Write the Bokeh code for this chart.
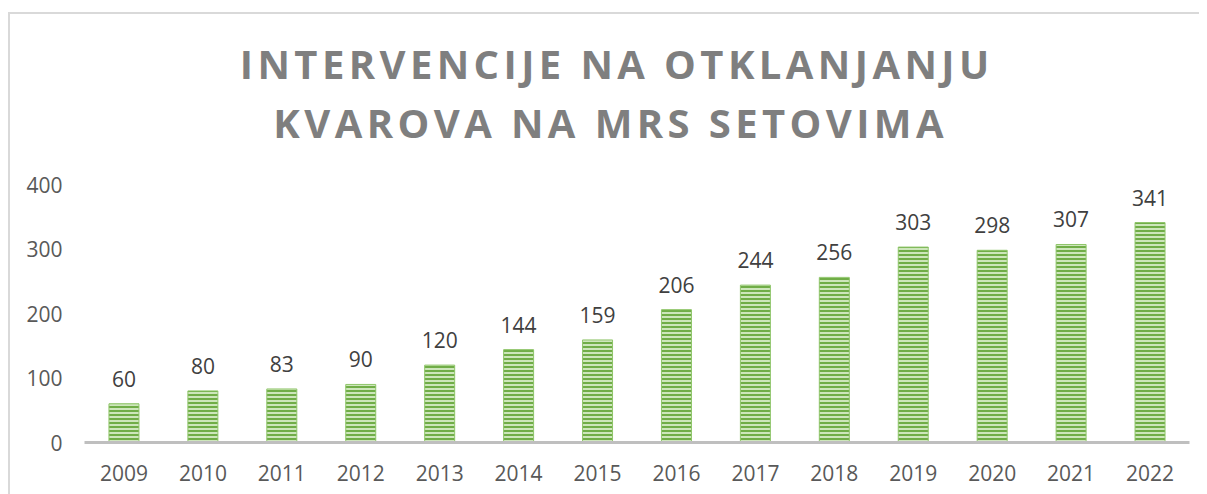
from bokeh.plotting import figure
from bokeh.layouts import column
from bokeh.models import Range1d, FactorRange, FixedTicker, ColumnDataSource
from bokeh.core.properties import value
from bokeh.embed import file_html
from bokeh.resources import INLINE

years = ["2009", "2010", "2011", "2012", "2013", "2014", "2015",
         "2016", "2017", "2018", "2019", "2020", "2021", "2022"]
counts = [60, 80, 83, 90, 120, 144, 159, 206, 244, 256, 303, 298, 307, 341]
y_ticks = [0, 100, 200, 300, 400]
title_lines = ["INTERVENCIJE NA OTKLANJANJU", "KVAROVA NA MRS SETOVIMA"]

font = "Open Sans"
W = 1199
TH = 164

# ---- title strip (own figure so that letter spacing can be applied) ----
t = figure(width=W, height=TH, x_range=Range1d(0, W), y_range=Range1d(TH, 0),
           x_axis_type=None, y_axis_type=None,
           output_backend="svg", toolbar_location=None,
           min_border=0, min_border_left=0, min_border_right=0,
           min_border_top=0, min_border_bottom=0)
t.grid.visible = False
t.outline_line_color = None
t.background_fill_color = None
t.border_fill_color = None
t.styles = {"letter-spacing": "4.4px"}
t.text(x=[513, 516], y=[63, 122], text=title_lines,
       text_align="center", text_baseline="alphabetic",
       text_font=value(font), text_font_size="40px", text_font_style="bold",
       text_color="#7f7f7f")

# ---- main chart ----
src = ColumnDataSource(dict(x=years, top=counts, lbl=[str(c) for c in counts]))

p = figure(width=W, height=330,
           x_range=FactorRange(*years), y_range=Range1d(0, 400),
           output_backend="svg", toolbar_location=None, title=None,
           min_border_left=84, min_border_right=10,
           min_border_top=20, min_border_bottom=52)
p.outline_line_color = None
p.background_fill_color = None
p.border_fill_color = None
p.xgrid.grid_line_color = None
p.ygrid.grid_line_color = None

p.vbar(x="x", top="top", width=0.38, source=src,
       fill_color="#cde6bb", line_color="#8fc56a", line_width=1,
       hatch_pattern="horizontal_line", hatch_color="#70ad47",
       hatch_scale=4, hatch_weight=2)

p.text(x="x", y="top", text="lbl", source=src,
       text_align="center", text_baseline="alphabetic", y_offset=-25,
       text_font=value(font), text_font_size="21px",
       text_color="#404040")

for ax in (p.xaxis[0], p.yaxis[0]):
    ax.major_label_text_font = font
    ax.major_label_text_font_size = "21px"
    ax.major_label_text_color = "#595959"
    ax.major_tick_line_color = None
    ax.minor_tick_line_color = None
    ax.major_tick_out = 0
    ax.major_tick_in = 0

p.xaxis.axis_line_color = "#bfbfbf"
p.xaxis.axis_line_width = 3
p.xaxis.major_label_standoff = 22
p.yaxis.axis_line_color = None
p.yaxis.ticker = FixedTicker(ticks=y_ticks)
p.yaxis.major_label_standoff = 22

layout = column(t, p, spacing=0)
layout.styles = {
    "background-color": "white",
    "background-image": "linear-gradient(#d9d9d9, #d9d9d9), linear-gradient(#d9d9d9, #d9d9d9)",
    "background-size": "100% 2px, 2px 100%",
    "background-position": "8px 12px, 8px 12px",
    "background-repeat": "no-repeat",
}

open("out.html", "w").write(file_html(layout, INLINE))
